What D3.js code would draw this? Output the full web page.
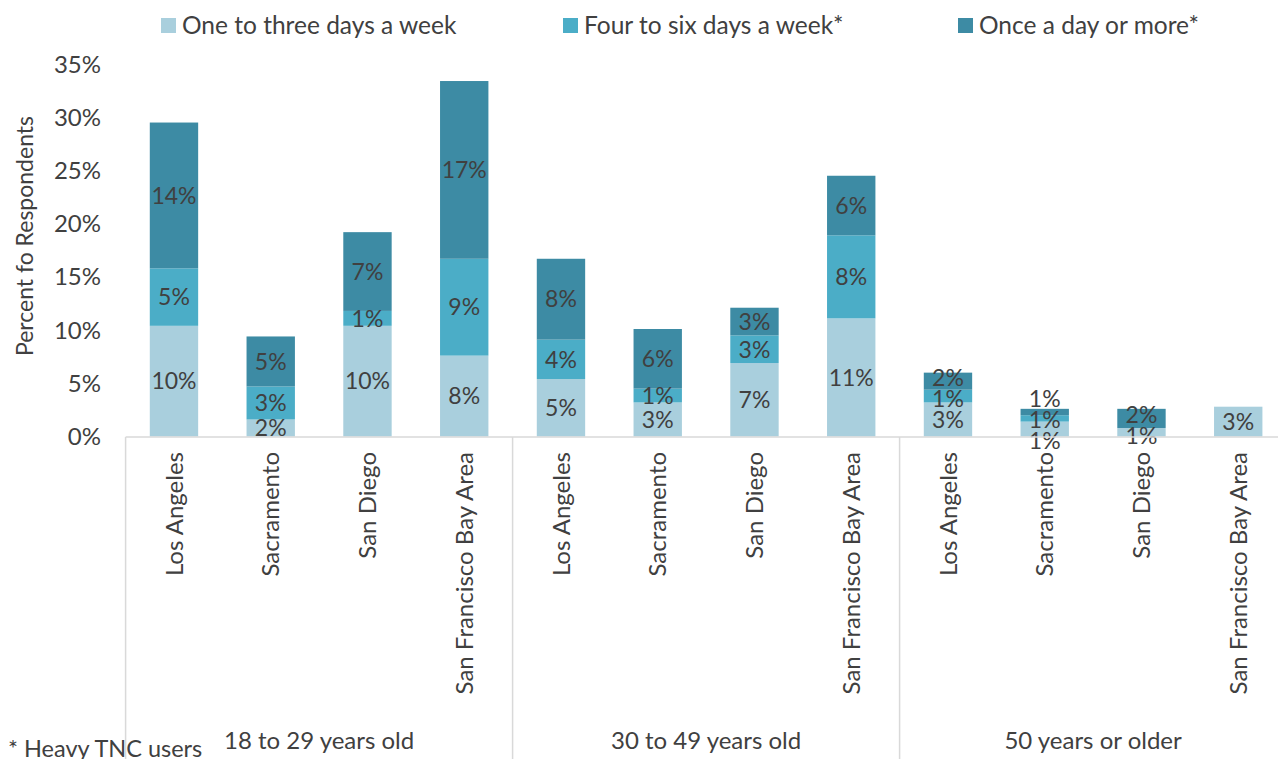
<!DOCTYPE html>
<html>
<head>
<meta charset="utf-8">
<script src="https://cdn.jsdelivr.net/npm/d3@7"></script>
<style>
  body { margin: 0; background: #fff; }
  text { font-family: Lato, "Open Sans", sans-serif; fill: #404040; }
</style>
</head>
<body>
<div id="chart"></div>
<script>
// age groups and cities along the x axis
var groups = ["18 to 29 years old", "30 to 49 years old", "50 years or older"];
var cities = ["Los Angeles", "Sacramento", "San Diego", "San Francisco Bay Area"];

var seriesNames = ["One to three days a week", "Four to six days a week*", "Once a day or more*"];
var seriesColors = ["#a9cfdd", "#4badc7", "#3d8ba4"];

// percent of respondents, one value per (group, city), in order
var oneToThree = [10.4, 1.6, 10.4, 7.6, 5.4, 3.2, 6.9, 11.1, 3.2, 1.4, 0.8, 2.8];
var fourToSix  = [5.4, 3.1, 1.4, 9.1, 3.7, 1.3, 2.6, 7.8, 1.2, 0.6, 0, 0];
var onceADay   = [13.7, 4.7, 7.4, 16.7, 7.6, 5.6, 2.6, 5.6, 1.6, 0.6, 1.8, 0];

var yTicks = [0, 5, 10, 15, 20, 25, 30, 35];

var width = 1278, height = 759;
var x0 = 125.6, bandW = 96.75;

var rows = [];
groups.forEach(function (g, gi) {
  cities.forEach(function (c, ci) {
    var i = gi * cities.length + ci;
    rows.push({ key: i, group: g, city: c, one: oneToThree[i], four: fourToSix[i], once: onceADay[i] });
  });
});

var x = d3.scaleBand()
  .domain(rows.map(function (d) { return d.key; }))
  .range([x0, x0 + bandW * rows.length])
  .paddingInner(0.5)
  .paddingOuter(0.25);

var y = d3.scaleLinear().domain([0, 35]).range([436.5, 64]);

var stack = d3.stack().keys(["one", "four", "once"]);
var layers = stack(rows);

var svg = d3.select("#chart").append("svg")
  .attr("width", width)
  .attr("height", height);

// y tick labels (no axis line in the original)
svg.append("g").selectAll("text")
  .data(yTicks)
  .enter().append("text")
  .attr("x", 101)
  .attr("y", function (d) { return y(d); })
  .attr("dy", "0.36em")
  .attr("text-anchor", "end")
  .style("font-size", "24px")
  .text(function (d) { return d + "%"; });

svg.append("text")
  .attr("transform", "translate(25,236) rotate(-90)")
  .attr("text-anchor", "middle")
  .attr("dy", "0.36em")
  .style("font-size", "23px")
  .text("Percent fo Respondents");

// bars
layers.forEach(function (layer, li) {
  svg.append("g").selectAll("rect")
    .data(layer)
    .enter().append("rect")
    .attr("x", function (d) { return x(d.data.key); })
    .attr("width", x.bandwidth())
    .attr("y", function (d) { return y(d[1]); })
    .attr("height", function (d) { return y(d[0]) - y(d[1]); })
    .attr("fill", seriesColors[li]);
});

// data labels, centred in segments, pushed apart when they crowd
var minGap = 21;
rows.forEach(function (r, ri) {
  var labs = [];
  layers.forEach(function (layer) {
    var d = layer[ri];
    var v = d[1] - d[0];
    if (v > 0) labs.push({ v: v, cy: y((d[0] + d[1]) / 2) });
  });
  for (var it = 0; it < 20; it++) {
    for (var k = 0; k < labs.length - 1; k++) {
      var gap = labs[k].cy - labs[k + 1].cy;
      if (gap < minGap) {
        var push = (minGap - gap) / 2;
        labs[k].cy += push;
        labs[k + 1].cy -= push;
      }
    }
  }
  labs.forEach(function (l) {
    svg.append("text")
      .attr("x", x(r.key) + x.bandwidth() / 2)
      .attr("y", l.cy)
      .attr("dy", "0.36em")
      .attr("text-anchor", "middle")
      .style("font-size", "23px")
      .text(Math.round(l.v) + "%");
  });
});

// category axis
var axisY = y(0) + 0.5;
var lineColor = "#d9d9d9";
svg.append("line")
  .attr("x1", x0).attr("x2", x0 + bandW * rows.length)
  .attr("y1", axisY).attr("y2", axisY)
  .attr("stroke", lineColor).attr("stroke-width", 1.5);

groups.forEach(function (g, gi) {
  var gx = x0 + gi * bandW * cities.length;
  svg.append("line")
    .attr("x1", gx).attr("x2", gx)
    .attr("y1", axisY).attr("y2", height)
    .attr("stroke", lineColor).attr("stroke-width", 1.5);
  svg.append("text")
    .attr("x", gx + bandW * cities.length / 2)
    .attr("y", 740)
    .attr("dy", "0.36em")
    .attr("text-anchor", "middle")
    .style("font-size", "24px")
    .text(g);
});

svg.append("g").selectAll("text")
  .data(rows)
  .enter().append("text")
  .attr("transform", function (d) {
    return "translate(" + (x(d.key) + x.bandwidth() / 2) + ",452) rotate(-90)";
  })
  .attr("dy", "0.36em")
  .attr("text-anchor", "end")
  .style("font-size", "24px")
  .text(function (d) { return d.city; });

// legend
var legendX = [161, 563, 958];
seriesNames.forEach(function (n, i) {
  svg.append("rect")
    .attr("x", legendX[i]).attr("y", 18)
    .attr("width", 15).attr("height", 15)
    .attr("fill", seriesColors[i]);
  svg.append("text")
    .attr("x", legendX[i] + 21)
    .attr("y", 25.5)
    .attr("dy", "0.36em")
    .style("font-size", "24.5px")
    .text(n);
});

svg.append("text")
  .attr("x", 8)
  .attr("y", 749)
  .attr("dy", "0.36em")
  .style("font-size", "23.5px")
  .text("* Heavy TNC users");
</script>
</body>
</html>
